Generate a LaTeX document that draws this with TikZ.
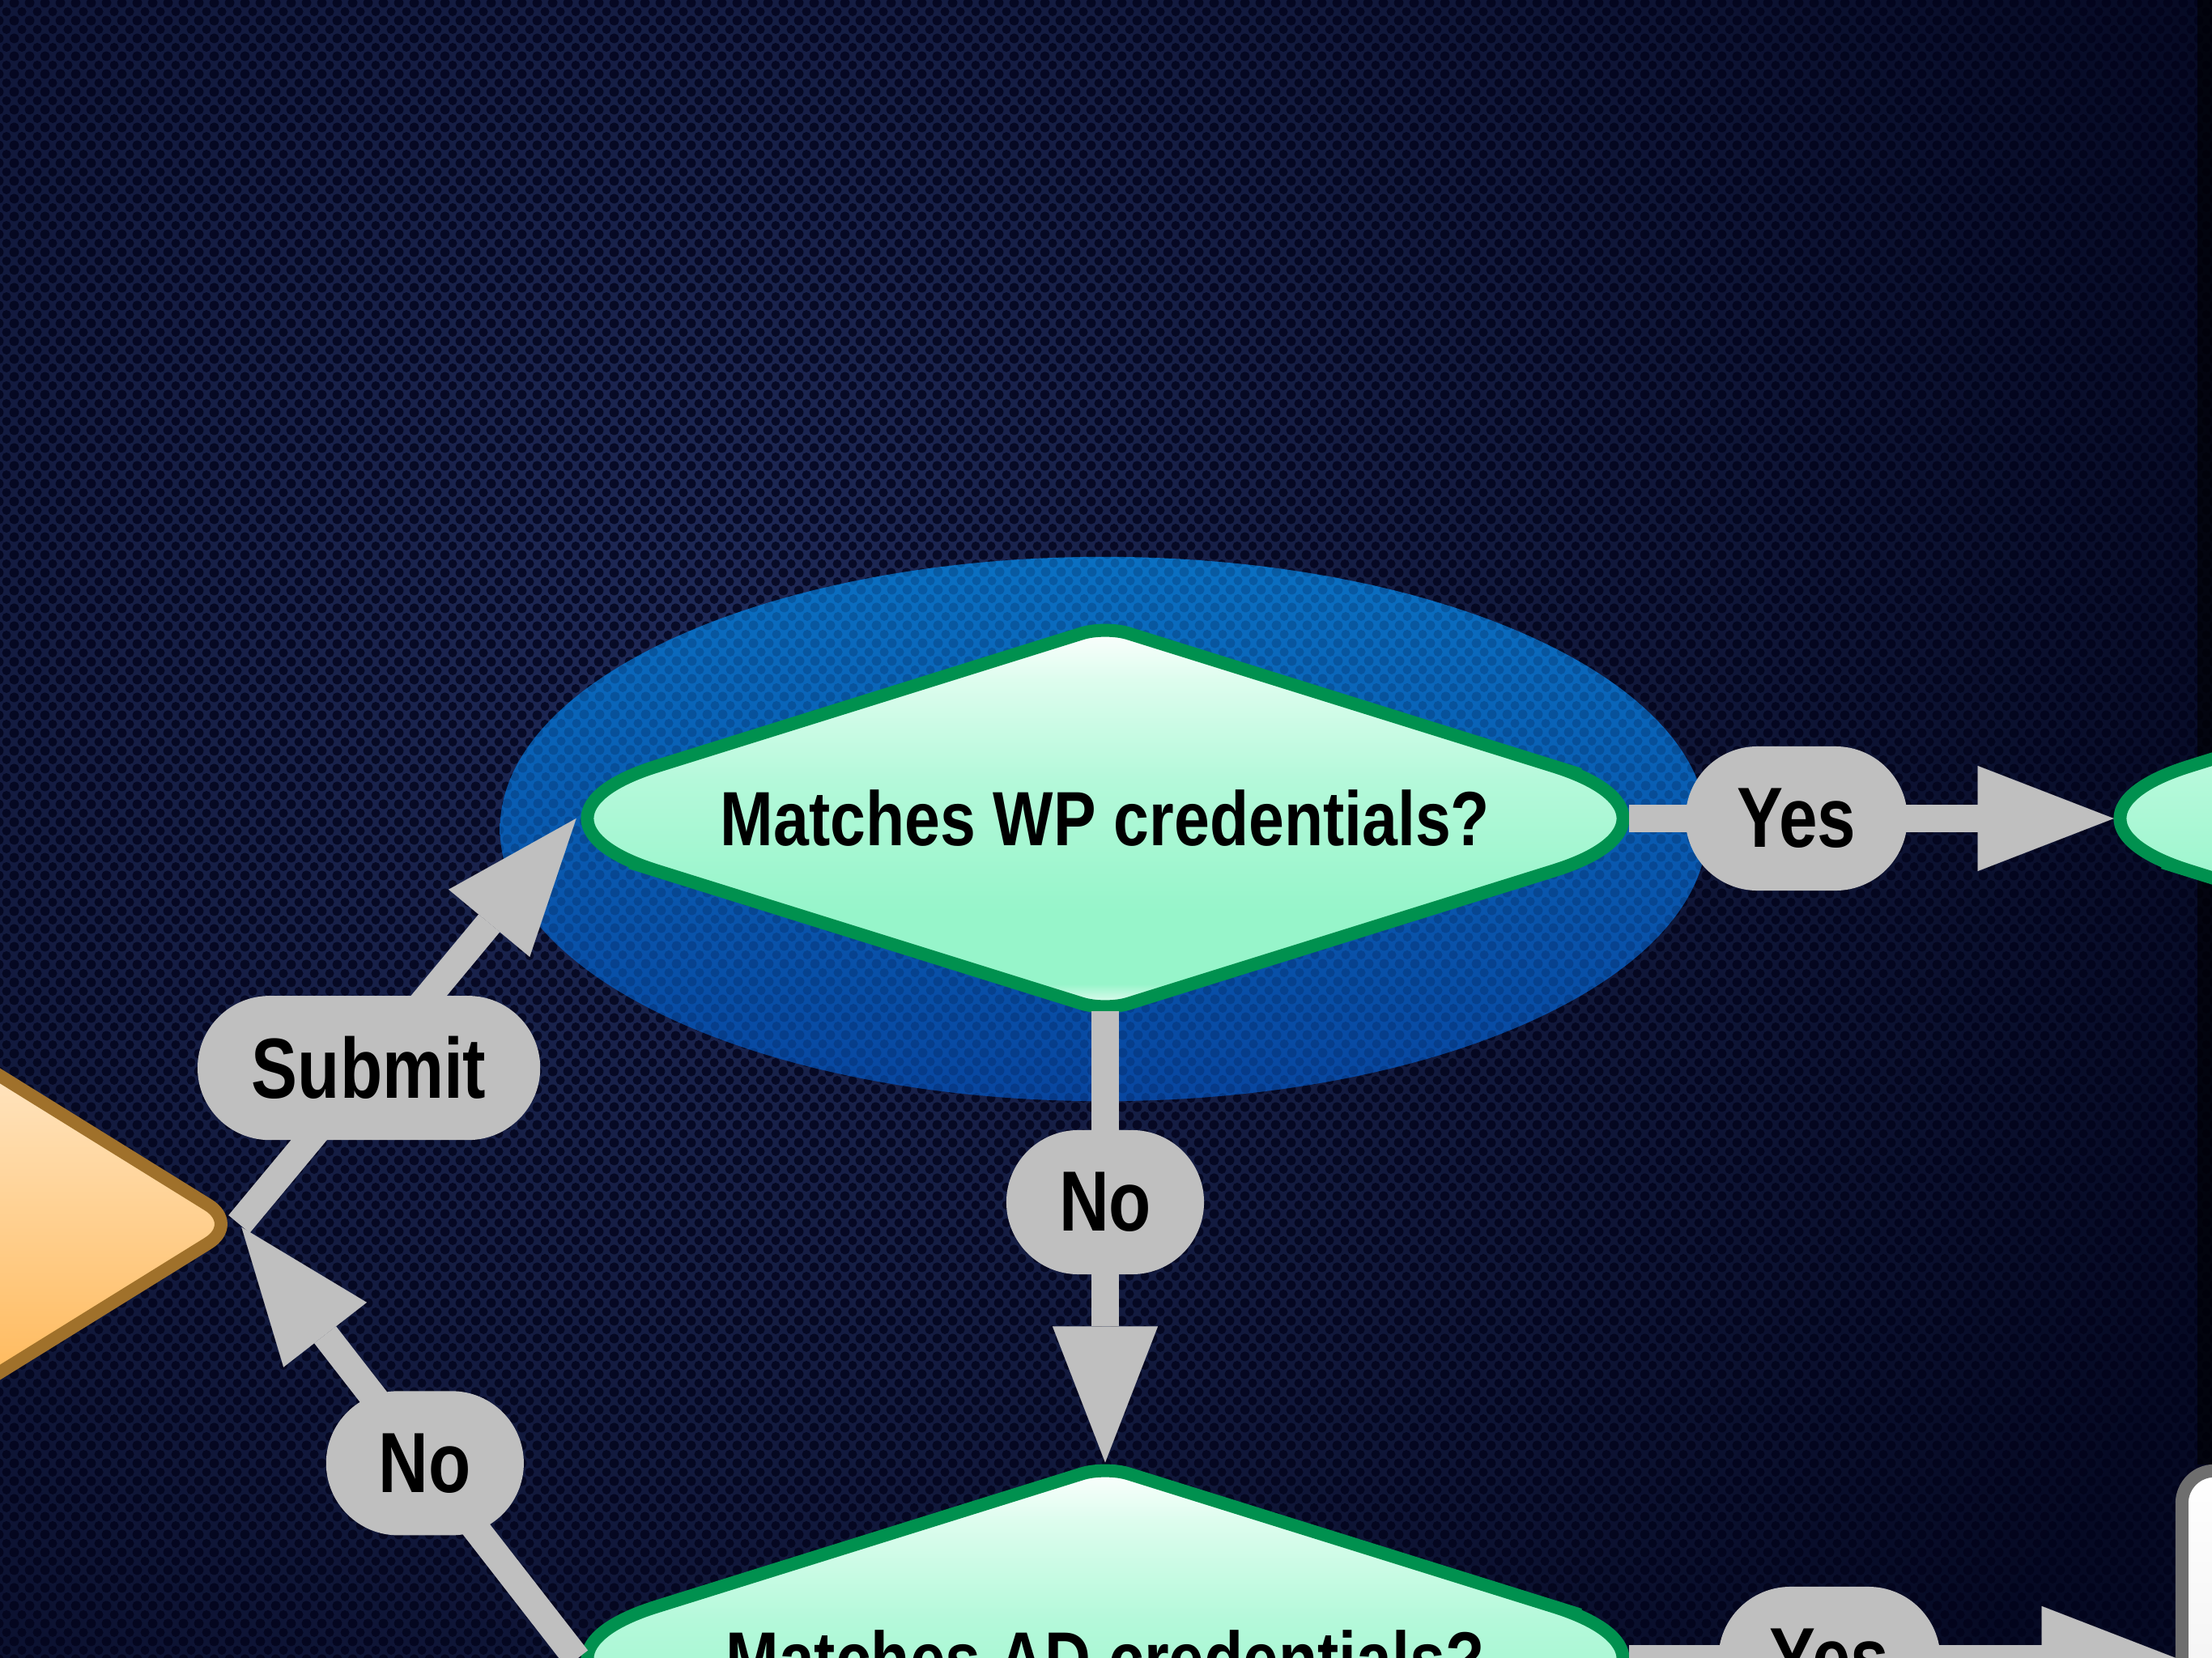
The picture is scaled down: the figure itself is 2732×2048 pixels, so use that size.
\documentclass[tikz,border=0pt]{standalone}
\usepackage{fontspec}
\newfontfamily\lbl{Liberation Sans}[FakeStretch=0.81]
\newfontfamily\dlbl{Liberation Sans}[FakeStretch=0.83]
\usetikzlibrary{shapes.geometric,arrows.meta,patterns,calc}
\definecolor{bgin}{HTML}{1F2A58}
\definecolor{bgout}{HTML}{060A24}
\definecolor{hole}{HTML}{02031A}
\definecolor{ellTop}{HTML}{0A70C2}
\definecolor{ellBot}{HTML}{0846A0}
\definecolor{cgray}{HTML}{BFBFBF}
\definecolor{dgreen}{HTML}{00914F}
\definecolor{mintA}{HTML}{96F5CA}
\definecolor{mintB}{HTML}{B4F9DA}
\definecolor{mintC}{HTML}{DDFDEE}
\definecolor{obrown}{HTML}{A0712B}
\definecolor{oTop}{HTML}{FFF8EE}
\definecolor{oBot}{HTML}{FFA62E}
\definecolor{boxgray}{HTML}{6E6E6E}
\pgfdeclareverticalshading{mintsh}{100bp}{color(0bp)=(white); color(25bp)=(white); color(28.5bp)=(mintA); color(38bp)=(mintA); color(55bp)=(mintB); color(68bp)=(mintC); color(75bp)=(white); color(100bp)=(white)}
\pgfdeclarepatternformonly{perf}{\pgfqpoint{0pt}{0pt}}{\pgfqpoint{5.41pt}{6.26pt}}{\pgfqpoint{5.41pt}{6.26pt}}{%
 \pgfpathcircle{\pgfqpoint{0pt}{0pt}}{1.65pt}%
 \pgfpathcircle{\pgfqpoint{5.41pt}{0pt}}{1.65pt}%
 \pgfpathcircle{\pgfqpoint{0pt}{6.26pt}}{1.65pt}%
 \pgfpathcircle{\pgfqpoint{5.41pt}{6.26pt}}{1.65pt}%
 \pgfpathcircle{\pgfqpoint{2.705pt}{3.13pt}}{1.65pt}%
 \pgfusepath{fill}}
\pgfdeclarelayer{back}
\pgfsetlayers{back,main}
% decision outline: large rounding at the side tips, small at top/bottom
\newcommand\decoutline[1]{%
 \path[decdraw] ($(#1.north)!0.5!(#1.west)$) [rounded corners=2.16cm] -- (#1.west)
   -- ($(#1.west)!0.5!(#1.south)$) [rounded corners=0.3cm] -- (#1.south)
   -- ($(#1.south)!0.5!(#1.east)$) [rounded corners=2.16cm] -- (#1.east)
   -- ($(#1.east)!0.5!(#1.north)$) [rounded corners=0.3cm] -- (#1.north) -- cycle;}
\begin{document}
\begin{tikzpicture}[x=0.01cm,y=-0.01cm,
  dec/.style={shape=diamond, aspect=3.2, minimum width=15.2cm, minimum height=4.75cm,
    inner sep=0pt, outer sep=0pt, font=\dlbl\bfseries\fontsize{27}{27}\selectfont, text=black},
  decdraw/.style={draw=dgreen, line width=4.55pt, shade, shading=mintsh},
  pill/.style={fill=cgray, rounded corners=0.89cm, minimum height=1.78cm, inner sep=0pt,
    font=\lbl\bfseries\fontsize{30}{30}\selectfont, text=black},
  conn/.style={draw=cgray, line width=9.7pt,
    -{Triangle[length=1.68cm, width=1.3cm, line width=0.01pt]}}]
\useasboundingbox (0,0) rectangle (2732,2048);
\begin{pgfonlayer}{back}
\clip (0,0) rectangle (2732,2048);
% background
\fill[bgout] (0,0) rectangle (2732,2048);
\shade[inner color=bgin, outer color=bgout] (-1100,-1200) rectangle (2900,2800);
\fill[pattern=perf, pattern color=hole, opacity=0.78] (0,0) rectangle (2732,2048);
\fill[black, opacity=0.6] (2714,0) rectangle (2732,1809);
% highlight ellipse
\shade[top color=ellTop, bottom color=ellBot] (1363,1024) ellipse [x radius=7.45cm, y radius=3.36cm];
\fill[pattern=perf, pattern color=hole, opacity=0.18] (1363,1024) ellipse [x radius=7.45cm, y radius=3.36cm];
\end{pgfonlayer}
% nodes
\node[shape=diamond, minimum width=12cm, minimum height=7.44cm, inner sep=0pt, outer sep=0pt,
  draw=obrown, line width=4.55pt, rounded corners=0.45cm, top color=oTop, bottom color=oBot] (orn) at (-305,1512) {};
\node[dec] (wp) at (1365,1011) {Matches WP credentials?};
\node[dec] (ad) at (1365,2049) {Matches AD credentials?};
\node[dec] (rd) at (3258,1011) {};
\node[rectangle, minimum width=6cm, minimum height=8cm, draw=boxgray, line width=4.55pt,
  rounded corners=0.4cm, top color=white, bottom color=gray!25, outer sep=0pt] (bx) at (2995,2217) {};
\begin{pgfonlayer}{back}
\decoutline{wp}
\decoutline{ad}
\decoutline{rd}
\end{pgfonlayer}
% connectors
\draw[conn] (orn.east) -- node[pill, pos=0.385, minimum width=4.23cm] (lsub) {Submit} ([xshift=1.07cm]wp.west);
\draw[conn, shorten >=0.05cm] (wp.south) -- node[pill, pos=0.42, minimum width=2.44cm] (lno1) {No} (ad.north);
\draw[conn] ([xshift=-1.13cm]wp.east) -- node[pill, pos=0.345, minimum width=2.74cm] (lyes1) {Yes} ([xshift=1.13cm]rd.west);
\draw[conn, shorten >=0.05cm] ([xshift=1.08cm]ad.west) -- node[pill, pos=0.45, minimum width=2.44cm] (lno2) {No} (orn.east);
\draw[conn, shorten >=0.05cm] ([xshift=-1.13cm]ad.east) -- node[pill, pos=0.362, minimum width=2.74cm] (lyes2) {Yes} (ad.east -| bx.west);
\end{tikzpicture}
\end{document}
